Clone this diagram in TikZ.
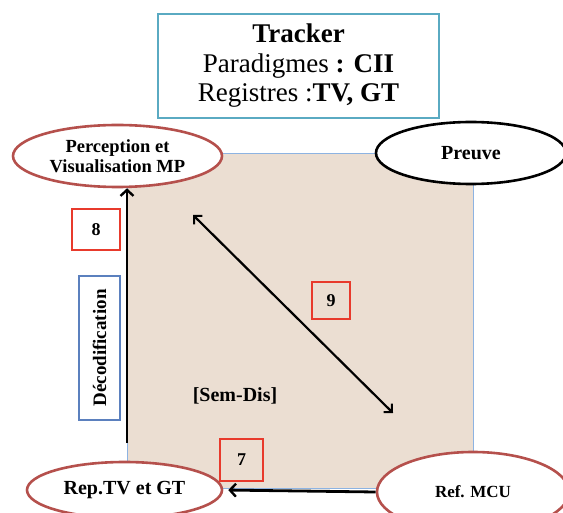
\documentclass[tikz,border=0pt]{standalone}
\usepackage{fontspec}
\setmainfont{Liberation Serif}
\usetikzlibrary{shapes.geometric,arrows.meta}
\definecolor{beige}{HTML}{EBDED2}
\definecolor{sqblue}{HTML}{8DB3E2}
\definecolor{teal1}{HTML}{5AAAC2}
\definecolor{ellred}{HTML}{B5504C}
\definecolor{boxred}{HTML}{E83A2C}
\definecolor{boxblue}{HTML}{5B80BE}
\tikzset{
  ell/.style={ellipse, draw=ellred, line width=2.6pt, fill=white, inner sep=0pt, align=center, font=\bfseries\fontsize{18.5}{20}\selectfont},
  numbox/.style={draw=boxred, line width=2.4pt, inner sep=0pt, font=\bfseries\fontsize{18}{20}\selectfont},
  arr/.style={line width=2.8pt, -{Straight Barb[length=6pt,width=13pt,line width=2.4pt]}},
  darr/.style={line width=2.2pt, {Straight Barb[length=6pt,width=12pt,line width=2pt]}-{Straight Barb[length=6pt,width=12pt,line width=2pt]}}
}
\begin{document}
\begin{tikzpicture}[x=1pt,y=-1pt]
\useasboundingbox (0,0) rectangle (563,513);
\fill[white] (0,0) rectangle (563,513);
% central square
\draw[sqblue, fill=beige, line width=0.8pt] (127,153) rectangle (473,488);
% top box
\node[draw=teal1, line width=2.6pt, minimum width=281pt, minimum height=104pt, inner sep=0pt] (top) at (298.5,66) {};
\node[align=center, font=\fontsize{27}{29.5}\selectfont] (toptext) at (298.5,66) {{\bfseries Tracker}\\ Paradigmes \textbf{: CII}\\ Registres :\textbf{TV, GT}};
% ellipses
\node[ell, minimum width=209pt, minimum height=62pt] (perc) at (117.5,156) {Perception et\\Visualisation MP};
\node[ell, draw=black, minimum width=190pt, minimum height=62pt, font=\bfseries\fontsize{20}{22}\selectfont] (preuve) at (471,153) {Preuve};
\node[ell, minimum width=195pt, minimum height=56pt, font=\bfseries\fontsize{20}{22}\selectfont] (rep) at (124.5,490) {Rep.TV et GT};
\node[ell, minimum width=192pt, minimum height=80pt, font=\bfseries\fontsize{17}{19}\selectfont] (ref) at (473,492) {Ref. MCU};
% vertical arrow
\coordinate (vstart) at (127,443);
\draw[arr] (vstart) -- (vstart |- perc.south);
% horizontal arrow
\draw[arr, shorten >=5pt] (ref.west) -- (rep.east);
% diagonal double arrow
\coordinate (d1) at (193,215);
\coordinate (d2) at (393,413);
\draw[darr] (d1) -- (d2);
% number boxes
\node[numbox, fill=white, minimum width=48pt, minimum height=41pt] (n8) at (96,229.5) {8};
\node[numbox, minimum width=38pt, minimum height=37pt] (n9) at (331,300.5) {9};
\node[numbox, minimum width=43pt, minimum height=42pt] (n7) at (241.5,460) {7};
% decodification box
\node[draw=boxblue, line width=2.4pt, fill=white, minimum width=41pt, minimum height=144pt, inner sep=0pt] (dec) at (99.5,348) {};
\node[rotate=90, font=\bfseries\fontsize{19}{21}\selectfont] (dectext) at (dec) {Décodification};
% Sem-Dis
\node[font=\bfseries\fontsize{20}{22}\selectfont] (sem) at (235,396) {[Sem-Dis]};
\end{tikzpicture}
\end{document}
